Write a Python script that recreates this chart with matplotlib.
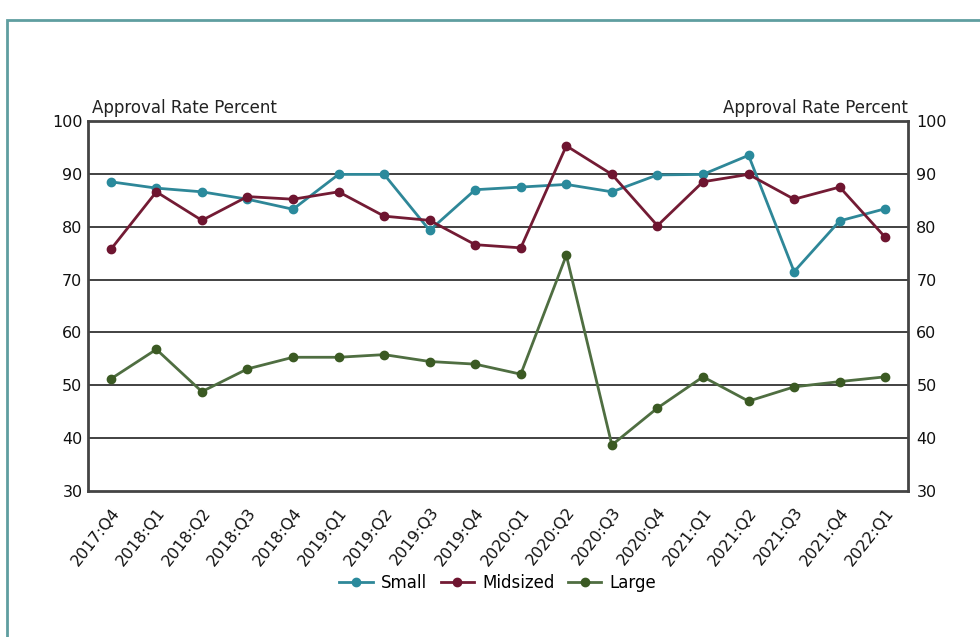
import matplotlib
matplotlib.use("Agg")
import matplotlib.pyplot as plt
from matplotlib.patches import Rectangle

quarters = ["2017:Q4", "2018:Q1", "2018:Q2", "2018:Q3", "2018:Q4", "2019:Q1",
            "2019:Q2", "2019:Q3", "2019:Q4", "2020:Q1", "2020:Q2", "2020:Q3",
            "2020:Q4", "2021:Q1", "2021:Q2", "2021:Q3", "2021:Q4", "2022:Q1"]
small = [88.5, 87.3, 86.6, 85.2, 83.3, 89.9, 89.9, 79.3, 87.0, 87.5, 88.0, 86.6,
         89.8, 89.9, 93.5, 71.5, 81.1, 83.4]
midsized = [75.7, 86.6, 81.2, 85.7, 85.2, 86.6, 82.0, 81.2, 76.6, 76.0, 95.3, 89.9,
            80.2, 88.5, 89.9, 85.2, 87.5, 78.0]
large = [51.2, 56.8, 48.8, 53.1, 55.3, 55.3, 55.8, 54.5, 54.0, 52.1, 74.6, 38.7,
         45.7, 51.6, 47.0, 49.7, 50.7, 51.6]
yticks = [30, 40, 50, 60, 70, 80, 90, 100]

plt.rcParams['font.family'] = ['DejaVu Sans']
fig = plt.figure(figsize=(9.8, 6.37), dpi=100)

# outer teal frame
fig.patches.append(Rectangle((7/980, -0.1), 1.2, (637-20)/637 + 0.1, transform=fig.transFigure,
                             fill=False, edgecolor='#5f9ea0', linewidth=2))

ax = fig.add_axes([88/980, (637-491)/637, (908-88)/980, (491-121)/637])
x = list(range(len(quarters)))
series = [("Small", small, '#2e8798', '#2a8a9c'),
          ("Midsized", midsized, '#731b34', '#6e1530'),
          ("Large", large, '#4f6e41', '#3b5a23')]
for name, vals, lc, mc in series:
    ax.plot(x, vals, color=lc, linewidth=2, marker='o', markersize=6,
            markerfacecolor=mc, markeredgecolor=mc, label=name, zorder=3)

ax.set_xlim(-0.5, len(quarters) - 0.5)
ax.set_ylim(30, 100)
ax.set_yticks(yticks)
for v in yticks[1:-1]:
    ax.axhline(v, color='#333333', linewidth=1.3, zorder=1)
for s in ax.spines.values():
    s.set_color('#444444')
    s.set_linewidth(2)
ax.set_xticks(x)
ax.set_xticklabels(quarters, rotation=52, ha='right', rotation_mode='anchor', fontsize=11.5)
ax.tick_params(axis='both', length=0, labelsize=11.5, colors='#111111')
ax.tick_params(axis='x', pad=10)
ax.tick_params(axis='y', pad=4)

ax2 = ax.twinx()
ax2.set_ylim(30, 100)
ax2.set_yticks(yticks)
ax2.tick_params(axis='y', length=0, labelsize=11.5, colors='#111111', pad=6)
for s in ax2.spines.values():
    s.set_visible(False)

ax.text(0.005, 1.01, "Approval Rate Percent", transform=ax.transAxes, ha='left', va='bottom',
        fontsize=12, color='#222222')
ax.text(1.0, 1.01, "Approval Rate Percent", transform=ax.transAxes, ha='right', va='bottom',
        fontsize=12, color='#222222')

fig.legend(loc='center', bbox_to_anchor=(0.508, 0.085), ncol=3, frameon=False, fontsize=12,
           handlelength=2.0, columnspacing=0.8, handletextpad=0.5)

fig.savefig("out.png", dpi=100)
